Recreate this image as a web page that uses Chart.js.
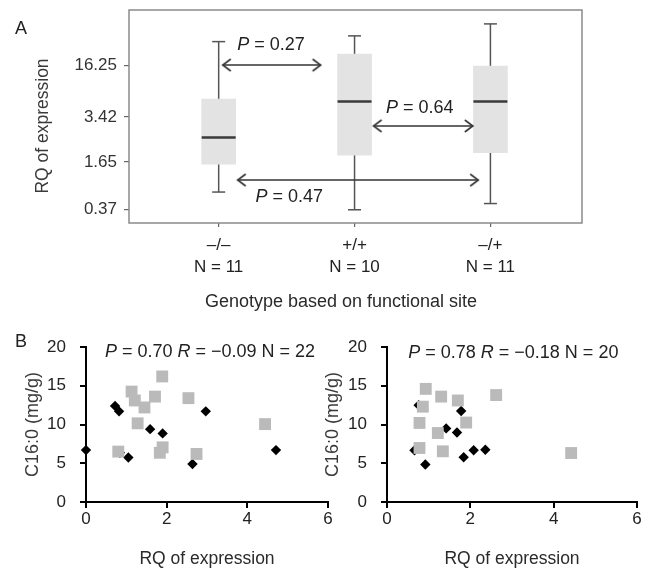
<!DOCTYPE html>
<html>
<head>
<meta charset="utf-8">
<script src="https://cdn.jsdelivr.net/npm/chart.js@4/dist/chart.umd.min.js"></script>
<style>
  body { margin: 0; background: #fff; width: 648px; height: 570px; position: relative; overflow: hidden; }
  canvas { position: absolute; }
</style>
</head>
<body>
<canvas id="box-chart" width="648" height="320" style="left:0;top:0"></canvas>
<canvas id="scatter-left" width="345" height="245" style="left:0;top:325px"></canvas>
<canvas id="scatter-right" width="348" height="245" style="left:300px;top:325px"></canvas>
<script>
// panel A - box plot, values on the plotted (tick step) scale
const genotypes = ['–/–', '+/+', '–/+']
const counts = ['N = 11', 'N = 10', 'N = 11']
const whiskerLow = [0.36, -0.01, 0.12]
const q1 = [0.94, 1.13, 1.18]
const medians = [1.50, 2.25, 2.25]
const q3 = [2.30, 3.24, 2.99]
const whiskerHigh = [3.50, 3.62, 3.87]
const rqTickPos = [0, 0.99, 1.93, 3.0]
const rqTickLabels = ['0.37', '1.65', '3.42', '16.25']

// comparison arrows
const pValues = ['0.27', '0.64', '0.47']
const arrowFrom = [1.03, 2.14, 1.14]
const arrowTo = [1.75, 2.87, 2.91]
const arrowY = [3.01, 1.74, 0.61]
const pLabelX = [1.385, 2.48, 1.52]
const pLabelY = [3.43, 2.12, 0.26]

// panel B - left scatter
const leftDiamondX = [0, 0.72, 0.82, 0.84, 1.05, 1.59, 1.90, 2.64, 2.97, 4.71]
const leftDiamondY = [6.7, 12.4, 11.7, 6.35, 5.75, 9.4, 8.85, 4.9, 11.7, 6.7]
const leftSquareX = [1.89, 1.13, 1.21, 1.45, 1.71, 2.54, 1.28, 4.44, 0.80, 1.83, 1.90, 2.74]
const leftSquareY = [16.2, 14.25, 13.1, 12.2, 13.6, 13.4, 10.15, 10.05, 6.5, 6.35, 7.05, 6.2]

// panel B - right scatter
const rightDiamondX = [0.66, 0.76, 0.92, 1.42, 1.68, 1.78, 1.84, 2.08, 2.36]
const rightDiamondY = [6.67, 12.5, 4.83, 9.5, 8.97, 11.75, 5.77, 6.67, 6.75]
const rightSquareX = [0.93, 1.30, 1.70, 0.86, 0.78, 1.90, 1.22, 0.78, 1.34, 2.62, 4.42]
const rightSquareY = [14.6, 13.6, 13.1, 12.3, 10.2, 10.25, 8.9, 6.97, 6.54, 13.8, 6.32]

const statP = ['0.70', '0.78']
const statR = ['−0.09', '−0.18']
const statN = [22, 20]
const statX = [0.47, 0.51]
const statY = [19.4, 19.2]

const FONT = "'Liberation Sans', Arial, sans-serif"
Chart.defaults.font.family = FONT
Chart.defaults.color = '#222'

// draws text made of [text, italic] parts, starting at x (or centred on it)
const richText = (ctx, parts, x, y, size, centred) => {
  ctx.save()
  ctx.fillStyle = '#222'
  ctx.textBaseline = 'middle'
  ctx.textAlign = 'left'
  if (centred) {
    let w = 0
    parts.forEach(([t, it]) => {
      ctx.font = (it ? 'italic ' : '') + size + 'px ' + FONT
      w += ctx.measureText(t).width
    })
    x -= w / 2
  }
  parts.forEach(([t, it]) => {
    ctx.font = (it ? 'italic ' : '') + size + 'px ' + FONT
    ctx.fillText(t, x, y)
    x += ctx.measureText(t).width
  })
  ctx.restore()
}

const label = (ctx, t, x, y, size, color, rot) => {
  ctx.save()
  ctx.fillStyle = color
  ctx.font = size + 'px ' + FONT
  ctx.textAlign = 'center'
  ctx.textBaseline = 'middle'
  ctx.translate(x, y)
  if (rot) ctx.rotate(rot)
  ctx.fillText(t, 0, 0)
  ctx.restore()
}

// keeps the chart area where the layout padding says
const noPad = s => {
  s.paddingTop = 0
  s.paddingBottom = 0
  s.paddingLeft = 0
  s.paddingRight = 0
}

// open arrow head, tip at the centre of the little canvas
const arrowHead = document.createElement('canvas')
arrowHead.width = 24
arrowHead.height = 16
const hctx = arrowHead.getContext('2d')
hctx.strokeStyle = '#333'
hctx.lineWidth = 1.6
hctx.beginPath()
hctx.moveTo(4, 2)
hctx.lineTo(12, 8)
hctx.lineTo(4, 14)
hctx.stroke()

const boxChart = () => {
  const datasets = []
  genotypes.forEach((g, i) => {
    datasets.push({
      type: 'line',
      data: [{x: i + 1, y: whiskerLow[i]}, {x: i + 1, y: whiskerHigh[i]}],
      borderColor: '#555',
      borderWidth: 1.5,
      pointStyle: 'line',
      pointRadius: 6.5,
      pointBorderColor: '#555',
      pointBorderWidth: 1.5,
      order: 3
    })
  })
  datasets.push({
    type: 'bar',
    data: genotypes.map((g, i) => ({x: i + 1, y: [q1[i], q3[i]]})),
    backgroundColor: '#e3e3e3',
    barThickness: 34,
    order: 2
  })
  datasets.push({
    type: 'scatter',
    data: genotypes.map((g, i) => ({x: i + 1, y: medians[i]})),
    pointStyle: 'line',
    pointRadius: 17,
    pointBorderColor: '#3a3a3a',
    pointBorderWidth: 2.5,
    order: 1
  })
  pValues.forEach((p, i) => {
    datasets.push({
      type: 'line',
      data: [{x: arrowFrom[i], y: arrowY[i]}, {x: arrowTo[i], y: arrowY[i]}],
      borderColor: '#333',
      borderWidth: 1.5,
      pointStyle: arrowHead,
      pointRotation: [180, 0],
      order: 0
    })
  })

  const extras = {
    id: 'extras',
    beforeDatasetsDraw(chart) {
      const {ctx, chartArea: a} = chart
      ctx.save()
      ctx.strokeStyle = '#8a8a8a'
      ctx.lineWidth = 1.5
      ctx.strokeRect(a.left, a.top, a.right - a.left, a.bottom - a.top)
      ctx.restore()
    },
    afterDraw(chart) {
      const {ctx, scales: {x, y}} = chart
      pValues.forEach((p, i) => {
        richText(ctx, [['P', true], [' = ' + p, false]],
          x.getPixelForValue(pLabelX[i]), y.getPixelForValue(pLabelY[i]), 18, true)
      })
      label(ctx, 'A', 21, 29, 18, '#222')
      label(ctx, 'RQ of expression', 43, 126, 17.5, '#3a3a3a', -Math.PI / 2)
      label(ctx, 'Genotype based on functional site', 341, 302, 18, '#2a2a2a')
    }
  }

  const options = {
    type: 'scatter',
    data: {datasets},
    options: {
      responsive: false,
      animation: false,
      events: [],
      layout: {autoPadding: false, padding: {top: 10, right: 66, bottom: 0, left: 0}},
      plugins: {legend: {display: false}, tooltip: {enabled: false}},
      scales: {
        x: {
          type: 'linear',
          min: 0.34,
          max: 3.674,
          offset: false,
          afterFit: s => { s.height = 97; noPad(s) },
          afterBuildTicks: s => { s.ticks = genotypes.map((g, i) => ({value: i + 1})) },
          ticks: {
            padding: 7.5,
            color: '#222',
            font: {size: 17, lineHeight: 1.3},
            callback: (v, i) => [genotypes[i], counts[i]]
          },
          grid: {offset: false, drawOnChartArea: false, tickLength: 4, color: '#666', lineWidth: 1.2},
          border: {display: false}
        },
        y: {
          type: 'linear',
          min: -0.286,
          max: 4.16,
          beginAtZero: false,
          afterFit: s => { s.width = 129; noPad(s) },
          afterBuildTicks: s => { s.ticks = rqTickPos.map(v => ({value: v})) },
          ticks: {
            padding: 7,
            color: '#333',
            font: {size: 17},
            callback: (v, i) => rqTickLabels[i]
          },
          grid: {drawOnChartArea: false, tickLength: 5, color: '#666', lineWidth: 1.2},
          border: {display: false}
        }
      }
    },
    plugins: [extras]
  }
  new Chart(document.getElementById('box-chart').getContext('2d'), options)
}

const scatterChart = (id, k, diaX, diaY, sqX, sqY, leftW, rightPad) => {
  const extras = {
    id: 'stats',
    afterDraw(chart) {
      const {ctx, scales: {x, y}} = chart
      richText(ctx, [['P', true], [' = ' + statP[k] + ' ', false], ['R', true],
        [' = ' + statR[k] + ' N = ' + statN[k], false]],
        x.getPixelForValue(statX[k]), y.getPixelForValue(statY[k]), 18, false)
      if (k === 0) label(ctx, 'B', 21, 17.5, 18, '#222')
    }
  }
  const options = {
    type: 'scatter',
    data: {
      datasets: [{
        data: sqX.map((v, i) => ({x: v, y: sqY[i]})),
        pointStyle: 'rect',
        pointRadius: 8.4,
        backgroundColor: '#bababa',
        borderWidth: 0,
        clip: false,
        order: 1
      }, {
        data: diaX.map((v, i) => ({x: v, y: diaY[i]})),
        pointStyle: 'rectRot',
        pointRadius: 5.2,
        backgroundColor: '#000',
        borderColor: '#000',
        borderWidth: 0,
        clip: false,
        order: 2
      }]
    },
    options: {
      responsive: false,
      animation: false,
      events: [],
      layout: {autoPadding: false, padding: {top: 22, right: rightPad, bottom: 0, left: 0}},
      plugins: {legend: {display: false}, tooltip: {enabled: false}},
      scales: {
        x: {
          min: 0,
          max: 6,
          afterFit: s => { s.height = 68; noPad(s) },
          ticks: {stepSize: 2, padding: 1, color: '#222', font: {size: 17}},
          grid: {drawOnChartArea: false, tickLength: 6, color: '#000', lineWidth: 2},
          border: {color: '#000', width: 2},
          title: {display: true, text: 'RQ of expression', color: '#2a2a2a',
            font: {size: 17.5}, padding: {top: 0, bottom: 0}}
        },
        y: {
          min: 0,
          max: 20,
          afterFit: s => { s.width = leftW; noPad(s) },
          ticks: {stepSize: 5, padding: 14, color: '#222', font: {size: 17}},
          grid: {drawOnChartArea: false, tickLength: 6, color: '#000', lineWidth: 2},
          border: {color: '#000', width: 2},
          title: {display: true, text: 'C16:0 (mg/g)', color: '#3a3a3a',
            font: {size: 18}, padding: {top: 22, bottom: 0}}
        }
      }
    },
    plugins: [extras]
  }
  new Chart(document.getElementById(id).getContext('2d'), options)
}

window.onload = () => {
  boxChart()
  scatterChart('scatter-left', 0, leftDiamondX, leftDiamondY, leftSquareX, leftSquareY, 86, 17)
  scatterChart('scatter-right', 1, rightDiamondX, rightDiamondY, rightSquareX, rightSquareY, 87, 11)
}
</script>
</body>
</html>
